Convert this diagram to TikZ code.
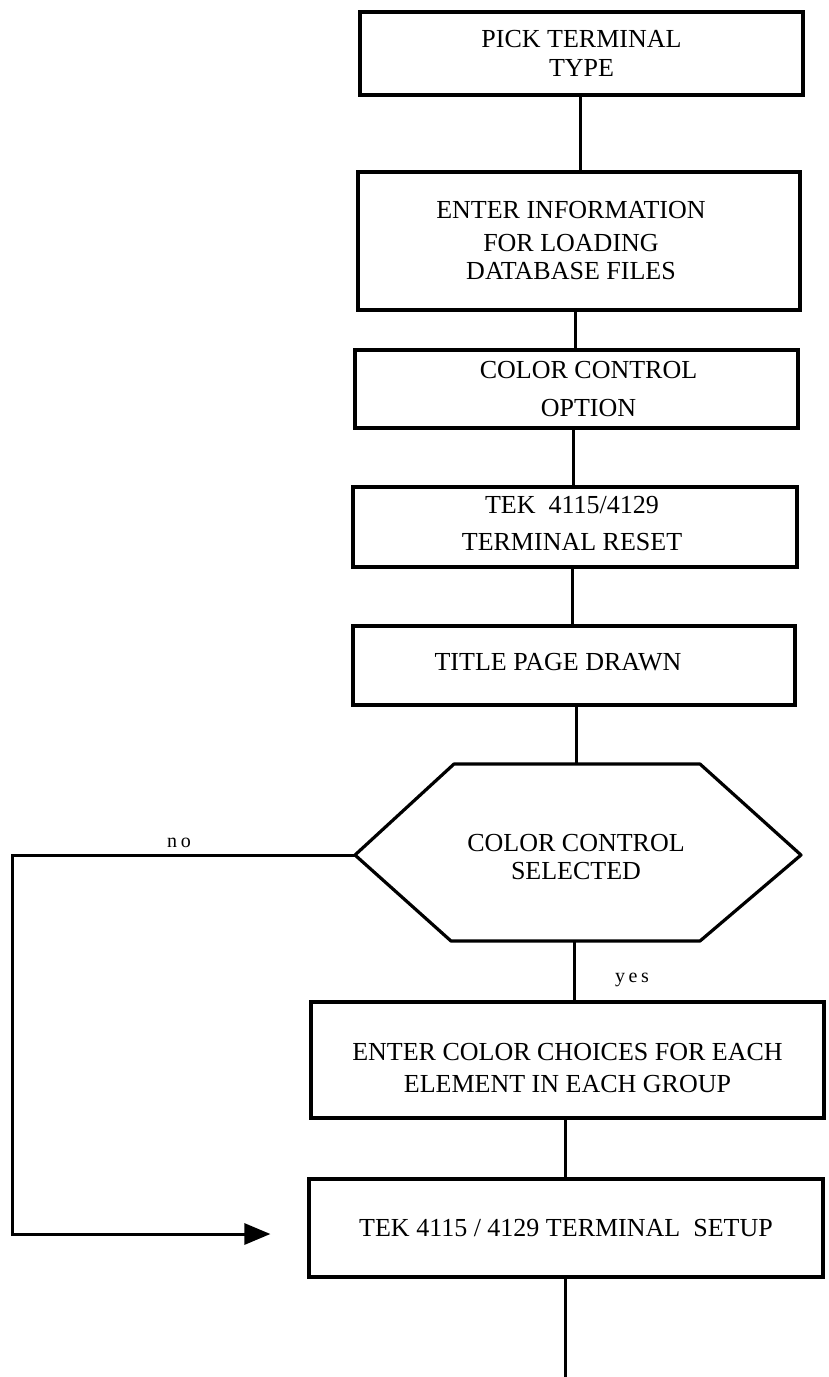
\documentclass[tikz,border=0pt]{standalone}
\usepackage{fontspec}
\setmainfont{Liberation Serif}
\usetikzlibrary{arrows.meta,calc}
\tikzset{
  stepbox/.style={draw, line width=3.2pt, rectangle, inner sep=0pt},
  txt/.style={align=center, inner sep=0pt, font=\fontsize{26}{32}\selectfont},
  conn/.style={line width=3pt},
  small/.style={font=\fontsize{20}{22}\selectfont\addfontfeature{LetterSpace=18}}
}
\begin{document}
\begin{tikzpicture}[x=1pt,y=-1pt]
\useasboundingbox (0,0) rectangle (828,1377);
\node[stepbox, minimum width=443pt, minimum height=83pt,
  label={[txt]center:PICK TERMINAL\\[-3pt]TYPE}] (b1) at (581.5,53.5) {};
\node[stepbox, minimum width=442pt, minimum height=138pt,
  label={[txt, xshift=-8pt]center:ENTER INFORMATION\\[1pt]FOR LOADING\\[-4pt]DATABASE FILES}] (b2) at (579,241) {};
\node[stepbox, minimum width=443pt, minimum height=78pt,
  label={[txt, xshift=12pt]center:COLOR CONTROL\\[6pt]OPTION}] (b3) at (576.5,389) {};
\node[stepbox, minimum width=444pt, minimum height=80pt,
  label={[txt, xshift=-3pt, yshift=3pt]center:TEK\ \ 4115/4129\\[5pt]TERMINAL RESET}] (b4) at (575,527) {};
\node[stepbox, minimum width=442pt, minimum height=79pt,
  label={[txt, xshift=-16pt, yshift=3pt]center:TITLE PAGE DRAWN}] (b5) at (574,665.5) {};
% decision hexagon
\coordinate (hL) at (355,855);
\coordinate (hTL) at (454,764);
\coordinate (hTR) at (700,764);
\coordinate (hR) at (801,855);
\coordinate (hBR) at (700,941);
\coordinate (hBL) at (451,941);
\draw[line width=3.2pt, line join=round] (hL) -- (hTL) -- (hTR) -- (hR) -- (hBR) -- (hBL) -- cycle;
\node[txt, font=\fontsize{26}{28}\selectfont] (hex) at (576,857) {COLOR CONTROL\\SELECTED};
\coordinate (hT) at (576,764);
\coordinate (hB) at (574,941);
\node[stepbox, minimum width=513pt, minimum height=116pt,
  label={[txt, yshift=-8pt]center:ENTER COLOR CHOICES FOR EACH\\[0pt]ELEMENT IN EACH GROUP}] (b7) at (567.5,1060) {};
\node[stepbox, minimum width=514pt, minimum height=98pt,
  label={[txt]center:TEK 4115 / 4129 TERMINAL\ \ SETUP}] (b8) at (566,1228) {};
\coordinate (fin) at (565,1377);
% connectors
\draw[conn] (b1.south -| 580,0) -- (b2.north -| 580,0);
\draw[conn] (b2.south -| 575,0) -- (b3.north -| 575,0);
\draw[conn] (b3.south -| 573,0) -- (b4.north -| 573,0);
\draw[conn] (b4.south -| 572,0) -- (b5.north -| 572,0);
\draw[conn] (b5.south -| hT) -- (hT);
\draw[conn] (hB) -- (hB |- b7.north);
\draw[conn] (b7.south -| fin) -- (b8.north -| fin);
\draw[conn] (b8.south -| fin) -- (fin);
\coordinate (ntip) at ($(b8.west)+(-37,6)$);
\draw[conn, -{Triangle[length=26pt,width=21pt]}] (hL) -- (12,855) |- (ntip);
\node[small] (nolab) at (179,843) {no};
\node[small] (yeslab) at (632,980) {yes};
\end{tikzpicture}
\end{document}
